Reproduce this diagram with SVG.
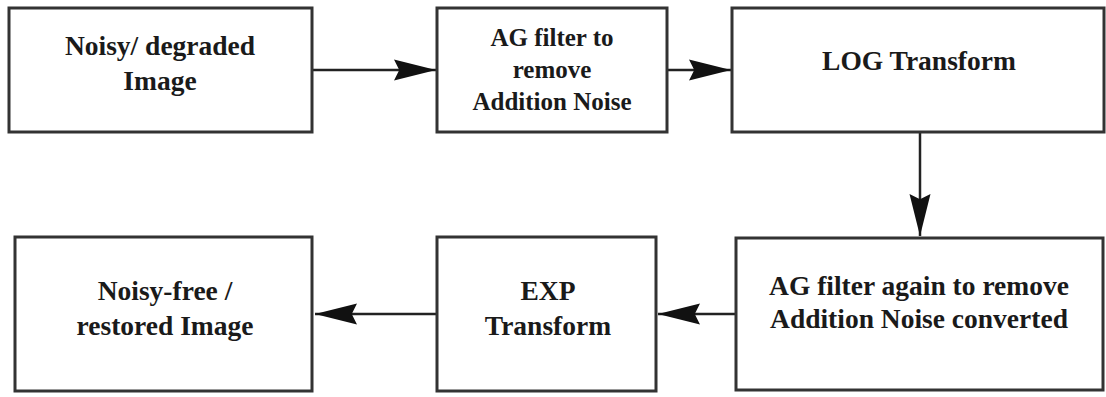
<svg xmlns="http://www.w3.org/2000/svg" width="1106" height="397" viewBox="0 0 1106 397">
<style>
.box{fill:#fff;stroke:#333;stroke-width:3}
.c{stroke:#222;stroke-width:2.5;fill:none;marker-end:url(#ah)}
</style>
<defs>
<marker id="ah" markerUnits="userSpaceOnUse" markerWidth="42" markerHeight="22" viewBox="0 0 40 20" refX="40" refY="10" orient="auto">
<path d="M0,0 L40,10 L0,20 L5,10 z" fill="#111"/>
</marker>
</defs>
<rect width="1106" height="397" fill="#fff"/>
<g id="connectors">
<line class="c" x1="313" y1="70" x2="436" y2="70"/>
<line class="c" x1="667" y1="70" x2="731" y2="70"/>
<line class="c" x1="920" y1="133" x2="920" y2="236"/>
<line class="c" x1="736" y1="314" x2="658" y2="314"/>
<line class="c" x1="437" y1="314" x2="315" y2="314"/>
</g>
<g font-family="Liberation Serif" font-weight="bold" font-size="27.5" fill="#1a1a1a" text-anchor="middle">
<g id="n1"><rect class="box" x="9" y="8" width="303" height="124"/>
<text x="160" y="55">Noisy/ degraded</text><text x="160" y="90">Image</text></g>
<g id="n2" font-size="25"><rect class="box" x="437" y="8" width="230" height="124"/>
<text x="552" y="46">AG filter to</text><text x="552" y="78">remove</text><text x="552" y="110">Addition Noise</text></g>
<g id="n3"><rect class="box" x="732" y="8" width="372" height="124"/>
<text x="919" y="70">LOG Transform</text></g>
<g id="n4"><rect class="box" x="736" y="238" width="367" height="152"/>
<text x="919" y="295">AG filter again to remove</text><text x="919" y="328">Addition Noise converted</text></g>
<g id="n5"><rect class="box" x="437" y="237" width="219" height="154"/>
<text x="548" y="300">EXP</text><text x="548" y="335">Transform</text></g>
<g id="n6"><rect class="box" x="15" y="237" width="297" height="154"/>
<text x="165" y="300">Noisy-free /</text><text x="165" y="335">restored Image</text></g>
</g>
</svg>
